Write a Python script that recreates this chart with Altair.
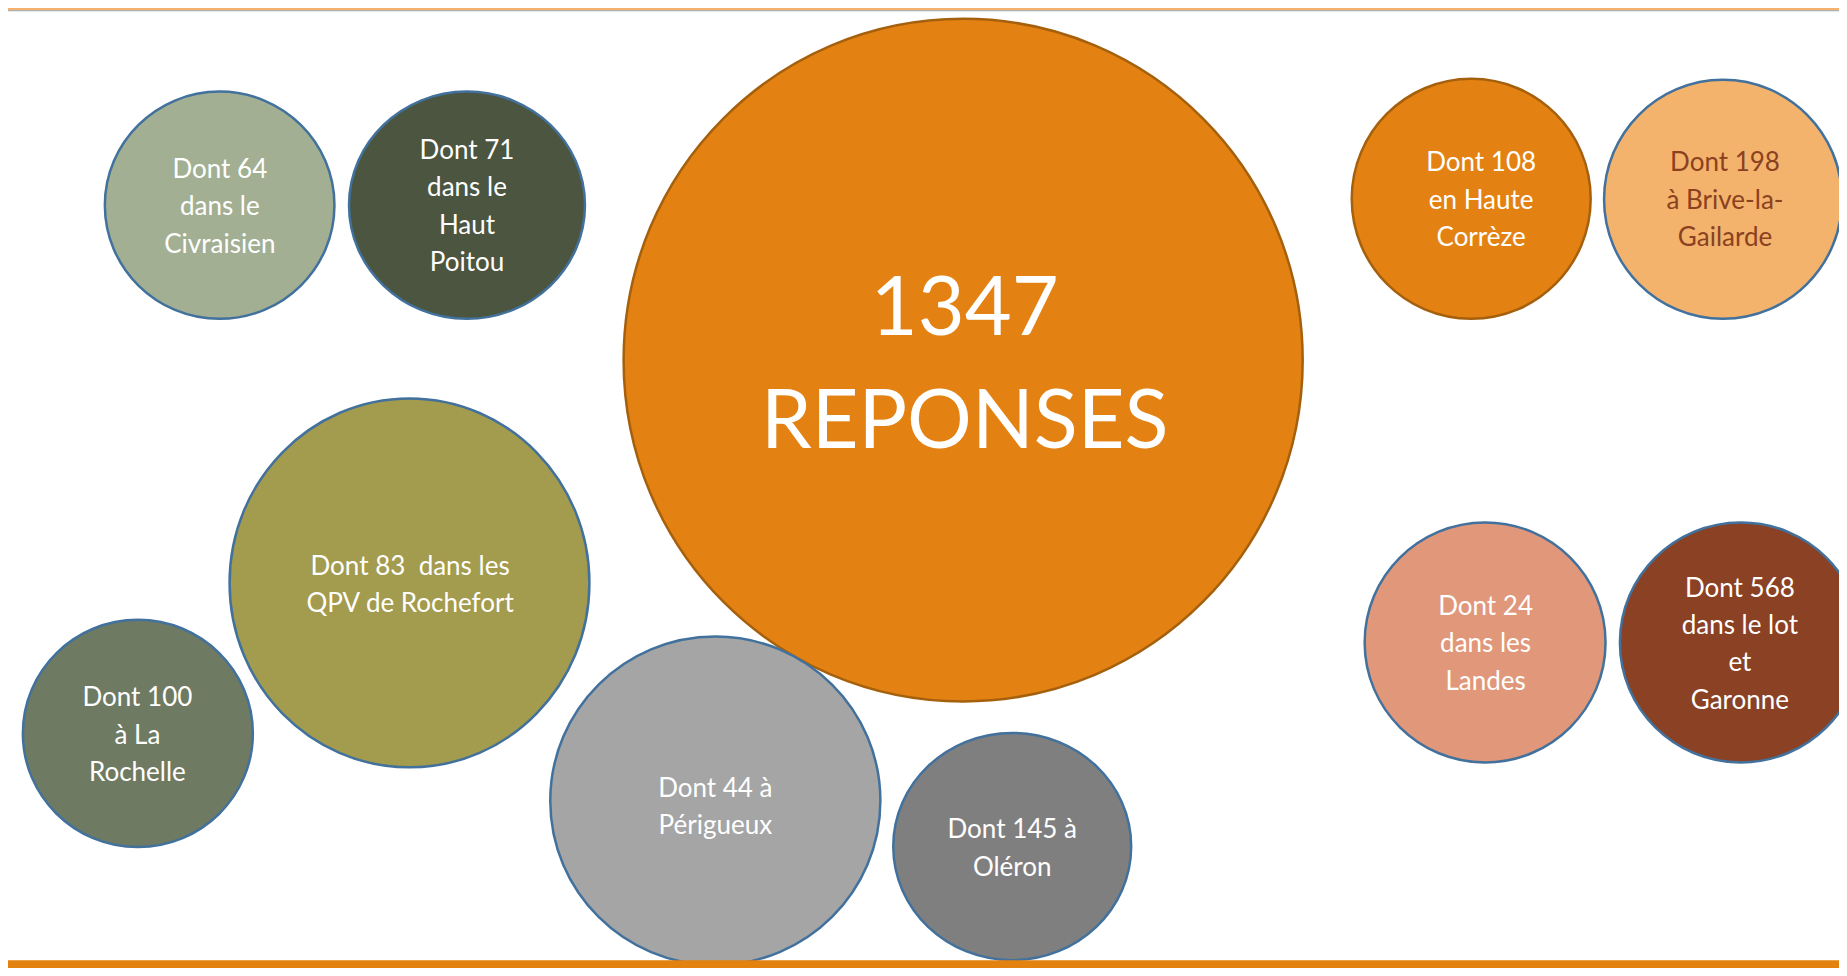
import altair as alt
import pandas as pd

# ---- content ----
labels = [
    "Dont 64\ndans le\nCivraisien",
    "Dont 71\ndans le\nHaut\nPoitou",
    "1347\nREPONSES",
    "Dont 108\nen Haute\nCorrèze",
    "Dont 198\nà Brive-la-\nGailarde",
    "Dont 83\u00a0 dans les\nQPV de Rochefort",
    "Dont 100\nà La\nRochelle",
    "Dont 44 à\nPérigueux",
    "Dont 145 à\nOléron",
    "Dont 24\ndans les\nLandes",
    "Dont 568\ndans le lot\net\nGaronne",
]

# ---- layout (reference pixel space 1847 x 976) ----
cx = [213.5, 463, 963.5, 1476, 1730, 405, 131, 713.5, 1013, 1490, 1748]
cy = [200.5, 200.5, 358, 194, 194.5, 584.5, 737.5, 806, 852.5, 645, 645]
rx = [115.8, 119, 342.5, 120.5, 120, 181.5, 116, 166.5, 120, 121.5, 122]
ry = [115.5, 115.5, 347, 122, 121.5, 187.5, 115.5, 167, 115.5, 122, 122]
# position of the first text line (middle baseline)
tx = [213.7, 463, 965, 1486, 1732, 405.6, 130.5, 713.5, 1013, 1490.5, 1747]
ty = [164.7, 145.3, 308, 157.7, 157.7, 568, 702, 793.7, 836, 608.7, 590.3]
big = [False, False, True, False, False, False, False, False, False, False, False]

# ---- styles ----
fills = ["#A2AF93", "#4B5540", "#E38212", "#E38212", "#F3B36D", "#A39B4E",
         "#6F7A62", "#A5A5A5", "#7F7F7F", "#E1977A", "#8A4124"]
strokes = ["#41719C", "#41719C", "#A5600D", "#A5600D", "#41719C", "#41719C",
           "#41719C", "#41719C", "#41719C", "#41719C", "#41719C"]
text_colors = ["#FFFFFF"] * 4 + ["#8B4120"] + ["#FFFFFF"] * 6

W_REF, H_REF = 1847, 976
W, H = 1831, 960
kx, ky = W / W_REF, H / H_REF

rows = []
for i in range(len(labels)):
    a = rx[i] * kx
    b = ry[i] * ky
    R = max(a, b)
    na, nb = a / R, b / R
    path = f"M{-na:.4f},0A{na:.4f},{nb:.4f} 0 1,1 {na:.4f},0A{na:.4f},{nb:.4f} 0 1,1 {-na:.4f},0Z"
    rows.append(dict(label=labels[i], cx=cx[i], cy=cy[i], d=2 * R, shape=path,
                     fill=fills[i], stroke=strokes[i], tx=tx[i], ty=ty[i],
                     tcol=text_colors[i], big=big[i]))
df = pd.DataFrame(rows)

xs = alt.Scale(domain=[0, W_REF], range=[0, W], nice=False, zero=False)
ys = alt.Scale(domain=[0, H_REF], range=[0, H], nice=False, zero=False)

circles = alt.Chart(df).mark_point(filled=True, opacity=1, strokeWidth=2.5).encode(
    x=alt.X("cx:Q", scale=xs, axis=None),
    y=alt.Y("cy:Q", scale=ys, axis=None),
    size=alt.Size("d:Q", scale=alt.Scale(type="pow", exponent=2, domain=[0, 1000],
                                         range=[0, 1000000], zero=True, nice=False),
                  legend=None),
    shape=alt.Shape("shape:N", scale=None),
    fill=alt.Fill("fill:N", scale=None),
    stroke=alt.Stroke("stroke:N", scale=None),
)

small_text = alt.Chart(df[~df["big"]]).mark_text(
    font="Lato", fontSize=26, lineHeight=37.4, lineBreak="\n",
    align="center", baseline="middle",
).encode(
    x=alt.X("tx:Q", scale=xs, axis=None),
    y=alt.Y("ty:Q", scale=ys, axis=None),
    text="label:N",
    color=alt.Color("tcol:N", scale=None),
)

big_text = alt.Chart(df[df["big"]]).mark_text(
    font="Lato", fontSize=81, fontWeight=400, lineHeight=113, lineBreak="\n",
    align="center", baseline="middle",
).encode(
    x=alt.X("tx:Q", scale=xs, axis=None),
    y=alt.Y("ty:Q", scale=ys, axis=None),
    text="label:N",
    color=alt.Color("tcol:N", scale=None),
)

bands = pd.DataFrame({
    "x": [0, 0, 0], "x2": [W_REF, W_REF, W_REF],
    "y": [0, 2.4, 968], "y2": [2.4, 3.2, 976],
    "c": ["#F4B26E", "#9E9E9E", "#E3820F"],
})
band_layer = alt.Chart(bands).mark_rect().encode(
    x=alt.X("x:Q", scale=xs, axis=None), x2="x2:Q",
    y=alt.Y("y:Q", scale=ys, axis=None), y2="y2:Q",
    color=alt.Color("c:N", scale=None),
)

chart = alt.layer(circles, small_text, big_text, band_layer).properties(
    width=W, height=H, padding=0, autosize="none", background="#FFFFFF"
).configure_view(strokeWidth=0)

chart.save("out.html", embed_options={"renderer": "svg", "actions": False})
